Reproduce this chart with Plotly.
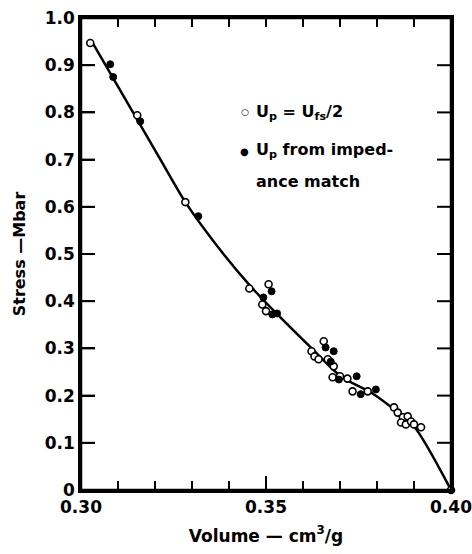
import plotly.graph_objects as go

# ---- data ----
curve_x = [0.3033, 0.3214, 0.3282, 0.3385, 0.3458, 0.3531, 0.3621, 0.3702, 0.3791, 0.3846, 0.3900, 0.4000]
curve_y = [0.945, 0.701, 0.610, 0.500, 0.432, 0.372, 0.302, 0.241, 0.203, 0.171, 0.135, 0.0]

open_x = [0.3025, 0.3152, 0.3282, 0.3455, 0.3507, 0.3490, 0.3500, 0.3623, 0.3631, 0.3656,
          0.3642, 0.3667, 0.3683, 0.3680, 0.3700, 0.3720, 0.3734, 0.3775, 0.3846, 0.3856,
          0.3870, 0.3883, 0.3865, 0.3878, 0.3892, 0.3900, 0.3919, 0.4000]
open_y = [0.947, 0.794, 0.610, 0.427, 0.436, 0.393, 0.379, 0.294, 0.283, 0.315,
          0.277, 0.277, 0.262, 0.239, 0.241, 0.236, 0.209, 0.209, 0.175, 0.164,
          0.154, 0.156, 0.143, 0.139, 0.145, 0.139, 0.133, 0.0]

filled_x = [0.3079, 0.3087, 0.3160, 0.3317, 0.3515, 0.3493, 0.3517, 0.3530, 0.3661, 0.3683,
            0.3675, 0.3697, 0.3745, 0.3756, 0.3797]
filled_y = [0.902, 0.875, 0.781, 0.580, 0.421, 0.408, 0.372, 0.374, 0.302, 0.294,
            0.272, 0.234, 0.241, 0.203, 0.213]

y_ticks = [0, 0.1, 0.2, 0.3, 0.4, 0.5, 0.6, 0.7, 0.8, 0.9, 1.0]
y_labels = ["0", "0.1", "0.2", "0.3", "0.4", "0.5", "0.6", "0.7", "0.8", "0.9", "1.0"]
x_ticks = [0.30, 0.31, 0.32, 0.33, 0.34, 0.35, 0.36, 0.37, 0.38, 0.39, 0.40]
x_labels = ["0.30", "", "", "", "", "0.35", "", "", "", "", "0.40"]

FONT = "DejaVu Sans"

def b(s):
    return "<b>" + s + "</b>" if s else ""

fig = go.Figure()
fig.add_trace(go.Scatter(x=curve_x, y=curve_y, mode="lines",
                         line=dict(color="black", width=2.5, shape="spline", smoothing=0.8),
                         showlegend=False, hoverinfo="skip"))
fig.add_trace(go.Scatter(x=open_x, y=open_y, mode="markers", cliponaxis=False,
                         marker=dict(symbol="circle", size=7, color="white",
                                     line=dict(color="black", width=1.6)),
                         showlegend=False))
fig.add_trace(go.Scatter(x=filled_x, y=filled_y, mode="markers", cliponaxis=False,
                         marker=dict(symbol="circle", size=7, color="black",
                                     line=dict(color="black", width=1)),
                         showlegend=False))

tick_font = dict(family=FONT, size=17, color="black")

fig.update_layout(
    xaxis=dict(range=[0.30, 0.40], tickmode="array", tickvals=x_ticks,
               ticktext=[b(t) for t in x_labels],
               showline=True, linecolor="black", linewidth=2.5, mirror=True,
               ticks="inside", ticklen=9, tickwidth=2, tickcolor="black",
               showgrid=False, zeroline=False, tickfont=tick_font,
               automargin=False, ticklabeloverflow="allow",
               title=dict(text=b("Volume — cm<sup>3</sup>/g"), standoff=14,
                          font=dict(family=FONT, size=17, color="black"))),
    yaxis=dict(range=[0, 1.0], tickmode="array", tickvals=y_ticks,
               ticktext=[b(t) for t in y_labels],
               showline=True, linecolor="black", linewidth=2.5, mirror=True,
               ticks="inside", ticklen=14, tickwidth=2, tickcolor="black",
               showgrid=False, zeroline=False, tickfont=tick_font, automargin=False,
               title=dict(text=b("Stress —Mbar"), standoff=16,
                          font=dict(family=FONT, size=16, color="black"))),
)

# frame and inward ticks on all four sides, placed through the axes' own scales
frame_line = dict(color="black", width=2.5)
tick_line = dict(color="black", width=2)
fig.add_shape(type="rect", xref="paper", yref="paper", x0=0, x1=1, y0=0, y1=1,
              line=frame_line, layer="above")
for xv, lab in zip(x_ticks, x_labels):
    ln = 14 if lab and 0 < x_ticks.index(xv) < len(x_ticks) - 1 else 9
    fig.add_shape(type="line", xref="x", yref="paper", ysizemode="pixel", yanchor=0,
                  x0=xv, x1=xv, y0=0, y1=ln, line=tick_line, layer="above")
    fig.add_shape(type="line", xref="x", yref="paper", ysizemode="pixel", yanchor=1,
                  x0=xv, x1=xv, y0=0, y1=-9, line=tick_line, layer="above")
for yv in y_ticks:
    fig.add_shape(type="line", xref="paper", yref="y", xsizemode="pixel", xanchor=0,
                  x0=0, x1=14, y0=yv, y1=yv, line=tick_line, layer="above")
    fig.add_shape(type="line", xref="paper", yref="y", xsizemode="pixel", xanchor=1,
                  x0=0, x1=-14, y0=yv, y1=yv, line=tick_line, layer="above")

# legend drawn as text annotations (symbols + labels)
def pxx(p):
    return (p - 81) / 370.0

def pxy(p):
    return (490 - p) / 472.0

legend_font = dict(family=FONT, size=16, color="black")
fig.add_annotation(xref="paper", yref="paper", x=pxx(245), y=pxy(112), xanchor="center", yanchor="middle",
                   text=b("○"), showarrow=False, font=dict(family=FONT, size=9, color="black"))
fig.add_annotation(xref="paper", yref="paper", x=pxx(244), y=pxy(151), xanchor="center", yanchor="middle",
                   text="●", showarrow=False, font=dict(family=FONT, size=10, color="black"))
fig.add_annotation(xref="paper", yref="paper", x=pxx(254), y=pxy(112), xanchor="left", yanchor="middle",
                   text=b("U<sub>p</sub> = U<sub>fs</sub>/2"), showarrow=False, font=legend_font)
fig.add_annotation(xref="paper", yref="paper", x=pxx(254), y=pxy(150), xanchor="left", yanchor="middle",
                   text=b("U<sub>p</sub> from imped-"), showarrow=False, font=legend_font)
fig.add_annotation(xref="paper", yref="paper", x=pxx(254), y=pxy(182), xanchor="left", yanchor="middle",
                   text=b("ance match"), showarrow=False, font=legend_font)

fig.update_layout(width=472, height=554, margin=dict(l=81, r=21, t=18, b=64, autoexpand=False),
                  plot_bgcolor="white", paper_bgcolor="white", showlegend=False)

fig.write_html("out.html")
